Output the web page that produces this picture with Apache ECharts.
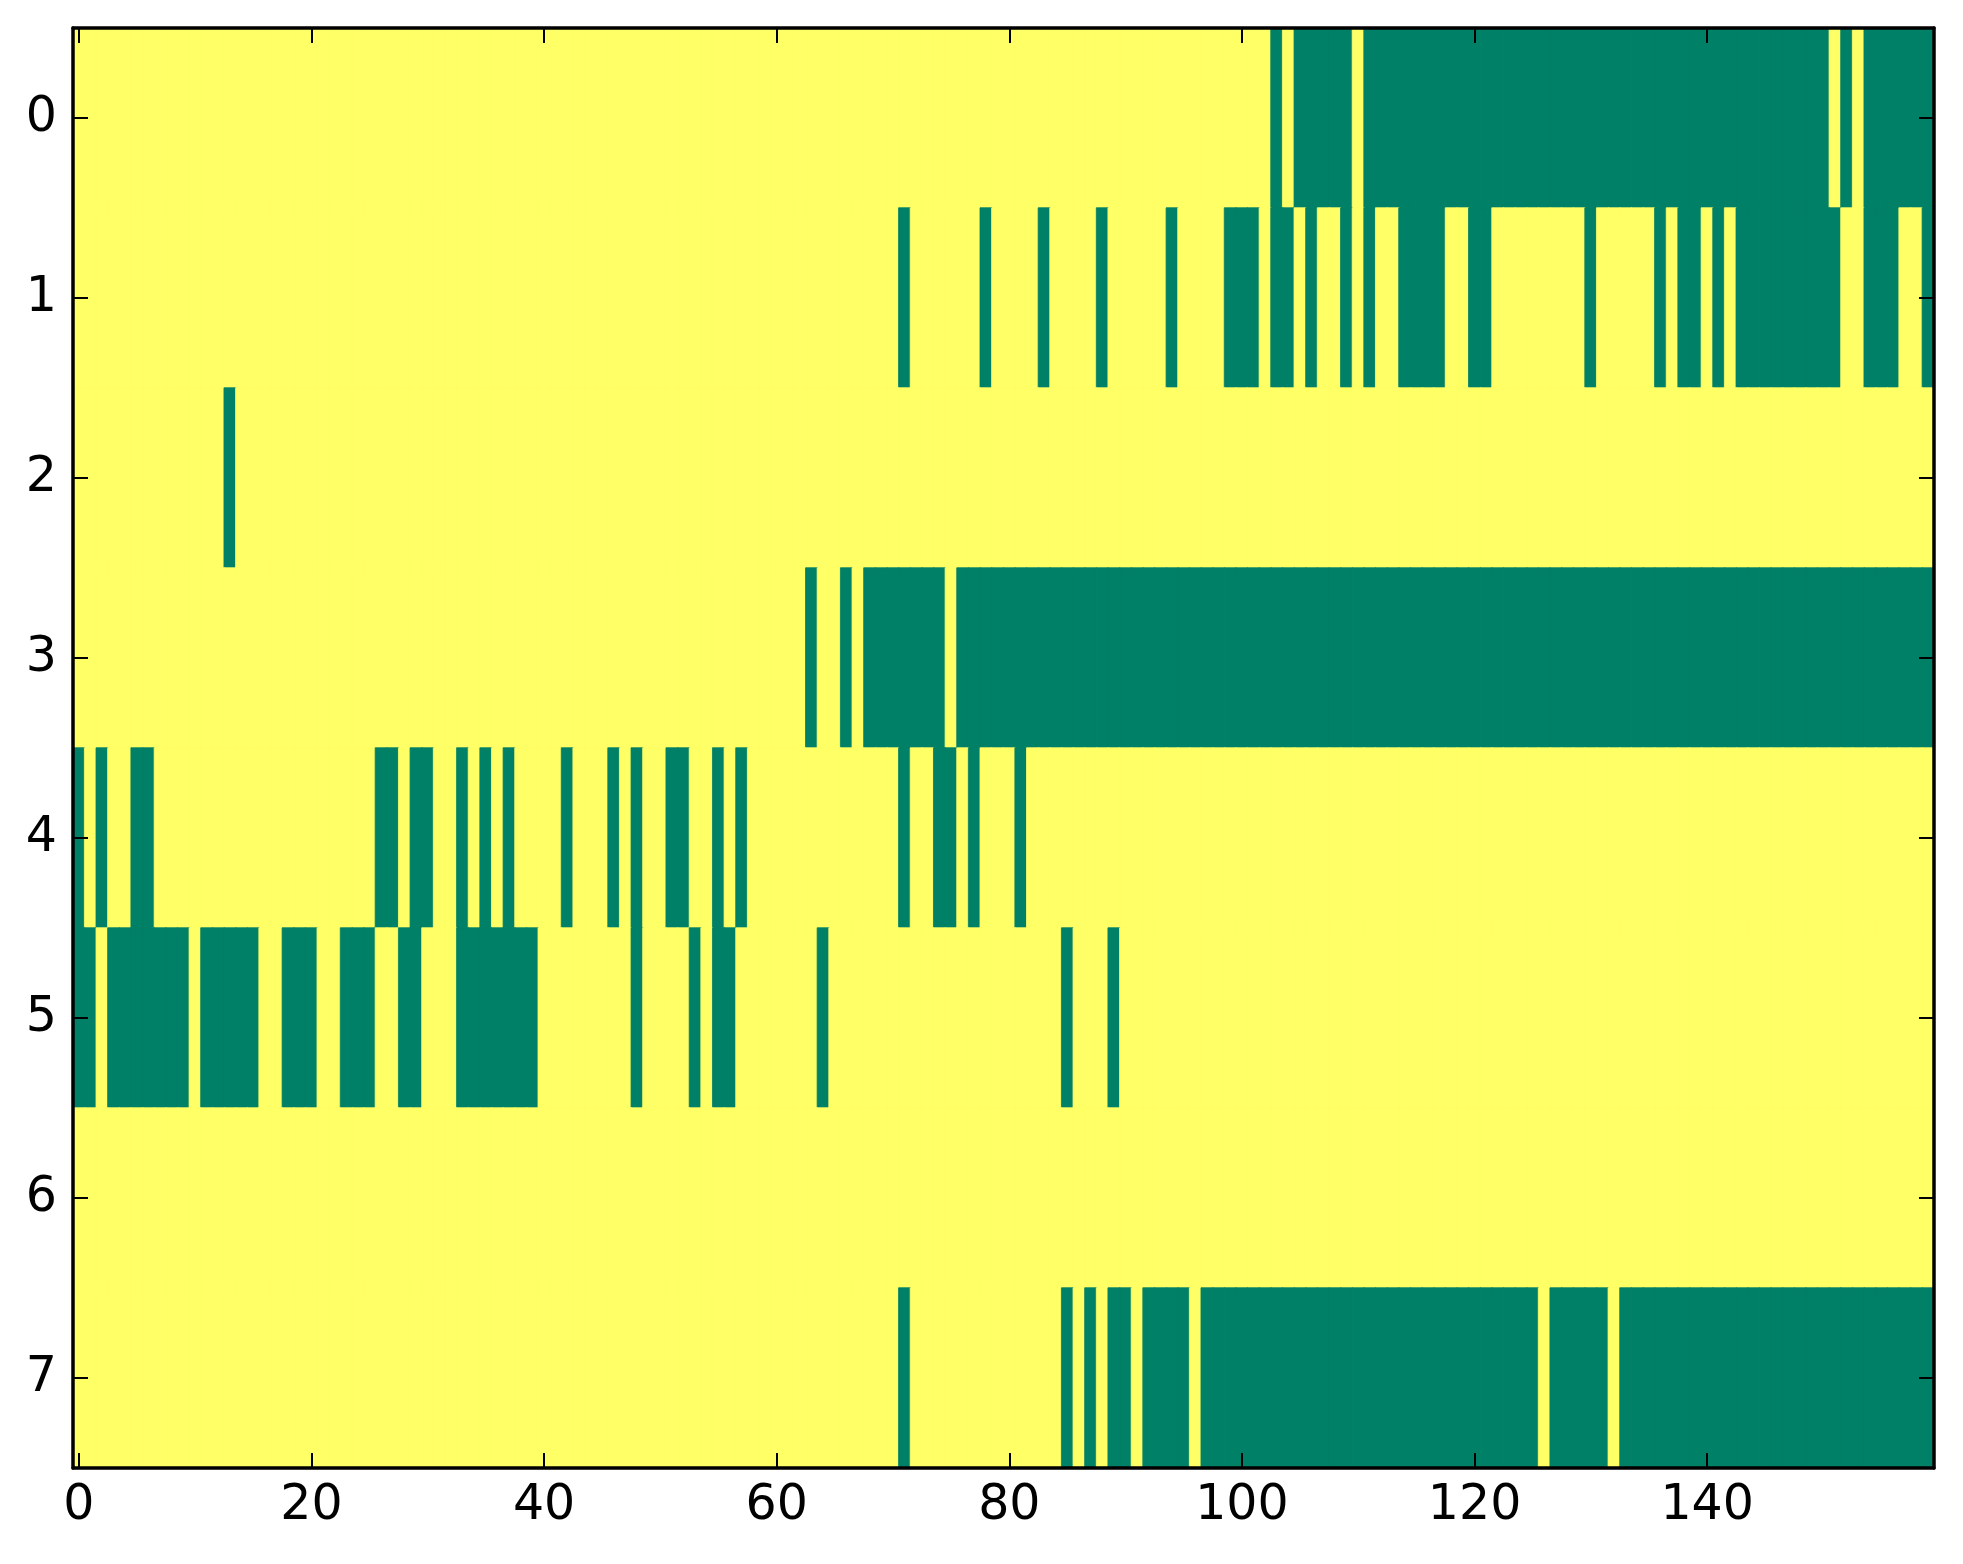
<!DOCTYPE html>
<html>
<head>
<meta charset="utf-8">
<title>Heatmap</title>
<script src="https://cdn.jsdelivr.net/npm/echarts@6/dist/echarts.min.js"></script>
<style>
  html, body { margin: 0; padding: 0; background: #fff; }
  #chart-main { width: 1963px; height: 1564px; }
</style>
</head>
<body>
<div id="chart-main"></div>
<script>
// green cells of each row as [from, to] column runs, the rest is yellow
var row0 = [[103,103],[105,109],[111,150],[152,152],[154,159]];
var row1 = [[71,71],[78,78],[83,83],[88,88],[94,94],[99,101],[103,104],[106,106],[109,109],[111,111],
            [114,117],[120,121],[130,130],[136,136],[138,139],[141,141],[143,151],[154,156],[159,159]];
var row2 = [[13,13]];
var row3 = [[63,63],[66,66],[68,74],[76,159]];
var row4 = [[0,0],[2,2],[5,6],[26,27],[29,30],[33,33],[35,35],[37,37],[42,42],[46,46],[48,48],
            [51,52],[55,55],[57,57],[71,71],[74,75],[77,77],[81,81]];
var row5 = [[0,1],[3,9],[11,15],[18,20],[23,25],[28,29],[33,39],[48,48],[53,53],[55,56],[64,64],
            [85,85],[89,89]];
var row6 = [];
var row7 = [[71,71],[85,85],[87,87],[89,90],[92,95],[97,125],[127,131],[133,159]];

var rowLabels = ['0', '1', '2', '3', '4', '5', '6', '7'];
var xTicks = [0, 20, 40, 60, 80, 100, 120, 140];
var colCount = 160;

var green  = '#008066';
var yellow = '#ffff66';

function buildData() {
	var rows = [row0, row1, row2, row3, row4, row5, row6, row7];
	var data = [];
	for (var r = 0; r < rows.length; r++) {
		var cells = [];
		for (var c = 0; c < colCount; c++) cells[c] = 1;
		rows[r].forEach(function (run) {
			for (var c = run[0]; c <= run[1]; c++) cells[c] = 0;
		});
		for (var c = 0; c < colCount; c++) {
			// a thin border in the cell colour hides the seams between cells
			data.push({
				value: [c, r, cells[c]],
				itemStyle: { borderColor: cells[c] ? yellow : green, borderWidth: 0.8 }
			});
		}
	}
	return data;
}

var colLabels = [];
for (var i = 0; i < colCount; i++) colLabels.push(String(i));

function isTick(index) { return xTicks.indexOf(index) >= 0; }

var font = 'DejaVu Sans';
var spine = { show: true, onZero: false, lineStyle: { color: '#000', width: 3.5 } };
var tick  = { show: true, inside: true, length: 15, lineStyle: { color: '#000', width: 2 } };

var myChart = echarts.init(document.getElementById('chart-main'));

var option = {
	animation: false,
	backgroundColor: '#fff',
	grid: { left: 73, top: 28, width: 1861, height: 1440 },
	xAxis: [{
		type: 'category', data: colLabels, position: 'bottom', z: 10,
		axisLine: spine,
		axisTick: Object.assign({}, tick, { alignWithLabel: true, interval: isTick }),
		axisLabel: { interval: isTick, margin: 14, fontSize: 49, color: '#000', fontFamily: font },
		splitLine: { show: false }
	}, {
		type: 'category', data: colLabels, position: 'top', z: 10,
		axisLine: spine,
		axisTick: Object.assign({}, tick, { alignWithLabel: true, interval: isTick }),
		axisLabel: { show: false },
		splitLine: { show: false }
	}],
	yAxis: [{
		type: 'category', data: rowLabels, inverse: true, position: 'left', z: 10,
		axisLine: spine,
		axisTick: Object.assign({}, tick, { alignWithLabel: true }),
		axisLabel: { margin: 16, fontSize: 49, color: '#000', fontFamily: font },
		splitLine: { show: false }
	}, {
		type: 'category', data: rowLabels, inverse: true, position: 'right', z: 10,
		axisLine: spine,
		axisTick: Object.assign({}, tick, { alignWithLabel: true }),
		axisLabel: { show: false },
		splitLine: { show: false }
	}],
	visualMap: {
		show: false, type: 'piecewise', dimension: 2,
		pieces: [ { value: 0, color: green }, { value: 1, color: yellow } ]
	},
	series: [{
		type: 'heatmap', xAxisIndex: 0, yAxisIndex: 0,
		progressive: 0, data: buildData(),
		emphasis: { disabled: true }
	}]
};

myChart.setOption(option);
</script>
</body>
</html>
